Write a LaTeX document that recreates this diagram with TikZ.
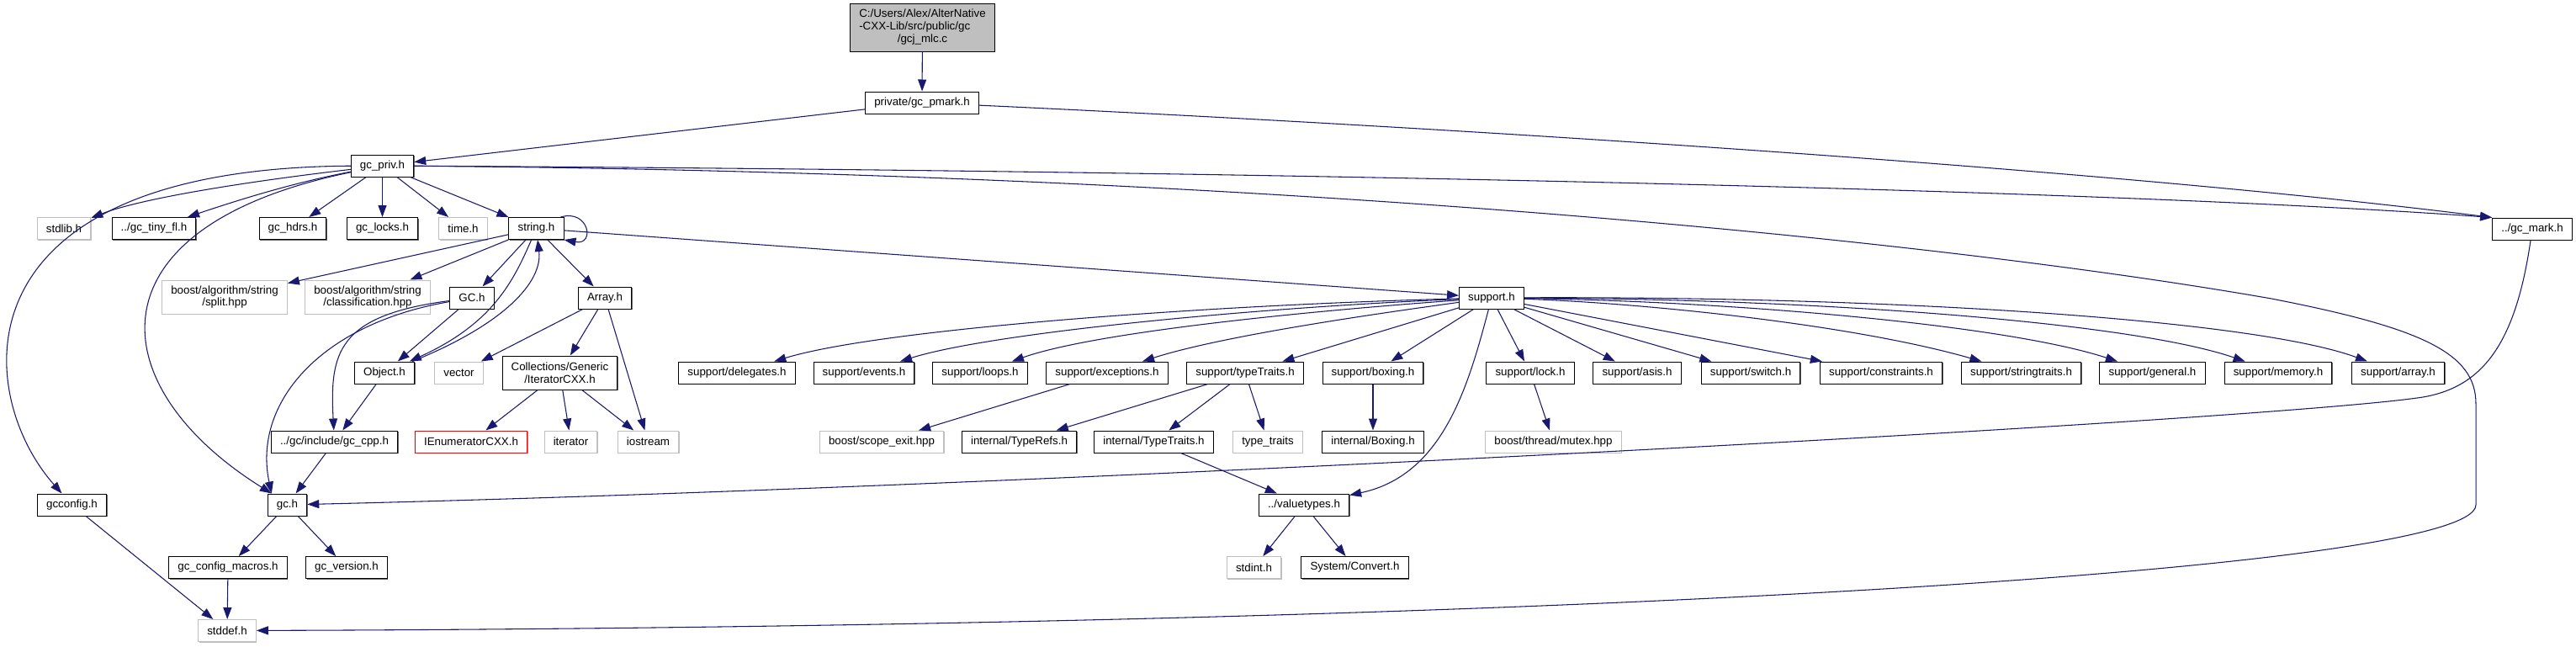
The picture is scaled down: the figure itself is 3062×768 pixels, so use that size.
\documentclass[tikz,border=0pt]{standalone}
\usepackage{fontspec}
\setmainfont{Liberation Sans}
\usetikzlibrary{arrows.meta,positioning,shadows}
\definecolor{edgeblue}{RGB}{25,25,112}
\definecolor{extgray}{RGB}{191,191,191}

\begin{document}
\begin{tikzpicture}[
    x=0.75pt, y=-0.75pt,
    box/.style={fill=white, line width=0.75pt, minimum height=19.5pt,
        inner xsep=8pt, inner ysep=1pt, align=center, font=\fontsize{10}{11}\selectfont},
    file/.style={box, draw=black, general shadow={fill=black!60, shadow xshift=0.75pt, shadow yshift=-0.75pt}},
    ext/.style={box, draw=extgray, general shadow={fill=extgray, shadow xshift=0.75pt, shadow yshift=-0.75pt}},
    nofile/.style={box, draw=red, general shadow={fill=red!60, shadow xshift=0.75pt, shadow yshift=-0.75pt}},
    srcfile/.style={file, fill=extgray},
    dep/.style={-{Triangle[length=10.5pt,width=7.5pt]}, edgeblue, line width=0.8pt}
]
    \fill[white] (0,0) rectangle (3062,768);
    \useasboundingbox (0,0) rectangle (3062,768);

    % the source file and gc_pmark
    \node[srcfile, minimum height=42.75pt] (mlc) at (1096.5,32.5)
        {\begin{tabular}{@{}l@{}}C:/Users/Alex/AlterNative\\-CXX-Lib/src/public/gc\\\multicolumn{1}{@{}c@{}}{/gcj\_mlc.c}\end{tabular}};
    \node[file] (pmark) at (1096,122) {private/gc\_pmark.h};
    \node[file] (priv) at (454.5,197) {gc\_priv.h};
    \node[file] (mark) at (3010,272) {../gc\_mark.h};

    % headers of gc_priv.h
    \node[ext]  (stdlib) at (76,271.5) {stdlib.h};
    \node[file] (tinyfl) at (183,271.5) {../gc\_tiny\_fl.h};
    \node[file] (hdrs) at (348,271.5) {gc\_hdrs.h};
    \node[file] (locks) at (454.5,271.5) {gc\_locks.h};
    \node[ext]  (time) at (550.5,271.5) {time.h};
    \node[file] (string) at (637.5,271.5) {string.h};

    % headers of string.h
    \node[ext, minimum height=30pt] (split) at (267,353) {boost/algorithm/string\\/split.hpp};
    \node[ext, minimum height=30pt] (classif) at (437,353) {boost/algorithm/string\\/classification.hpp};
    \node[file] (GC) at (561,354) {GC.h};
    \node[file] (array) at (719,354) {Array.h};
    \node[file] (support) at (1773,354) {support.h};

    \node[file] (object) at (457,443) {Object.h};
    \node[ext]  (vector) at (545.5,443) {vector};
    \node[file, minimum height=30pt] (iter) at (665.5,443) {Collections/Generic\\/IteratorCXX.h};

    % headers of support.h
    \node[file] (sdelegates) at (876,443) {support/delegates.h};
    \node[file] (sevents) at (1027,443) {support/events.h};
    \node[file] (sloops) at (1165,443) {support/loops.h};
    \node[file] (sexcept) at (1316,443) {support/exceptions.h};
    \node[file] (stypetr) at (1480,443) {support/typeTraits.h};
    \node[file] (sboxing) at (1632,443) {support/boxing.h};
    \node[file] (slock) at (1819,443) {support/lock.h};
    \node[file] (sasis) at (1946,443) {support/asis.h};
    \node[file] (sswitch) at (2081,443) {support/switch.h};
    \node[file] (sconstr) at (2236,443) {support/constraints.h};
    \node[file] (sstrtr) at (2402.5,443) {support/stringtraits.h};
    \node[file] (sgeneral) at (2558.5,443) {support/general.h};
    \node[file] (smemory) at (2708,443) {support/memory.h};
    \node[file] (sarray) at (2850.5,443) {support/array.h};

    \node[file]   (gccpp) at (397.5,525) {../gc/include/gc\_cpp.h};
    \node[nofile] (ienum) at (560,525) {IEnumeratorCXX.h};
    \node[ext]    (iterator) at (678.5,525) {iterator};
    \node[ext]    (iostream) at (770.5,525) {iostream};
    \node[ext]    (scope) at (1048,525) {boost/scope\_exit.hpp};
    \node[file]   (typerefs) at (1211.5,525) {internal/TypeRefs.h};
    \node[file]   (itypetr) at (1371.5,525) {internal/TypeTraits.h};
    \node[ext]    (typetraits) at (1507,525) {type\_traits};
    \node[file]   (iboxing) at (1632,525) {internal/Boxing.h};
    \node[ext]    (mutex) at (1846.5,525) {boost/thread/mutex.hpp};

    \node[file] (gcconfig) at (85.5,600) {gcconfig.h};
    \node[file] (gc) at (341.5,600) {gc.h};
    \node[file] (valtypes) at (1550,600) {../valuetypes.h};

    \node[file] (macros) at (271,674.5) {gc\_config\_macros.h};
    \node[file] (version) at (412,674.5) {gc\_version.h};
    \node[ext]  (stdint) at (1490.5,674.5) {stdint.h};
    \node[file] (convert) at (1610.5,674.5) {System/Convert.h};

    \node[ext] (stddef) at (270,749.5) {stddef.h};

    % turning points of the two long edges on the right
    \coordinate (eastbend) at (2700,355);
    \coordinate (easttop) at (2943,480);
    \coordinate (eastbot) at (2943,600);
    \coordinate (markturn) at (2880,472);

    % top of the graph
    \draw[dep] (mlc) -- (pmark);
    \draw[dep] (pmark) -- (priv);
    \draw[dep] (pmark) .. controls (1700,150) and (2500,200) .. (mark.north west);
    \draw[dep] (priv) .. controls (1500,203) and (2500,225) .. (mark.north west);

    % gc_priv.h
    \draw[dep] (priv) .. controls (-60,200) and (-30,470) .. (gcconfig);
    \draw[dep] (priv) .. controls (300,215) and (170,235) .. (stdlib);
    \draw[dep] (priv) .. controls (360,215) and (300,232) .. (tinyfl);
    \draw[dep] (priv) .. controls (100,270) and (120,460) .. ([xshift=-14pt]gc.north);
    \draw[dep] (priv) -- (hdrs);
    \draw[dep] (priv) -- (locks);
    \draw[dep] (priv) -- (time);
    \draw[dep] (priv) -- (string);
    \draw[dep] (priv) .. controls (1500,205) and (2300,285) .. (eastbend)
        .. controls (2880,390) and (2943,420) .. (easttop) -- (eastbot)
        .. controls (2943,680) and (1800,745) .. (stddef);

    % string.h
    \draw[dep] ([xshift=-3pt]string.north east) .. controls (700,248) and (708,292) .. (string.south east);
    \draw[dep] (string) -- (split);
    \draw[dep] (string) -- (classif);
    \draw[dep] (string) -- (GC);
    \draw[dep] (string) -- (array);
    \draw[dep] (string) -- (support);
    \draw[dep] (string) .. controls (610,335) and (585,385) .. (object);
    \draw[dep] (object) .. controls (600,385) and (645,335) .. (string);

    % GC.h, Object.h, Array.h
    \draw[dep] (GC) -- (object);
    \draw[dep] (GC) .. controls (400,375) and (392,420) .. (gccpp);
    \draw[dep] (GC) .. controls (380,385) and (300,480) .. ([xshift=-14pt]gc.north);
    \draw[dep] (object) -- (gccpp);
    \draw[dep] (gccpp) -- (gc);
    \draw[dep] (array) -- (vector);
    \draw[dep] (array) -- (iter);
    \draw[dep] (array) -- (iostream);
    \draw[dep] (iter) -- (ienum);
    \draw[dep] (iter) -- (iterator);
    \draw[dep] (iter) -- (iostream);

    % gc.h and stddef.h
    \draw[dep] (gc) -- (macros);
    \draw[dep] (gc) -- (version);
    \draw[dep] (gcconfig) -- (stddef);
    \draw[dep] (macros) -- (stddef);
    \draw[dep] (mark) .. controls (2990,410) and (2950,460) .. (markturn)
        .. controls (2700,500) and (1200,580) .. (gc);

    % support.h
    \draw[dep] (support) .. controls (1450,362) and (1050,390) .. (sdelegates);
    \draw[dep] (support) .. controls (1500,365) and (1180,395) .. (sevents);
    \draw[dep] (support) .. controls (1550,370) and (1300,395) .. (sloops);
    \draw[dep] (support) .. controls (1620,375) and (1450,400) .. (sexcept);
    \draw[dep] (support) -- (stypetr);
    \draw[dep] (support) -- (sboxing);
    \draw[dep] (support) .. controls (1745,460) and (1715,565) .. (valtypes);
    \draw[dep] (support) -- (slock);
    \draw[dep] (support) -- (sasis);
    \draw[dep] (support) -- (sswitch);
    \draw[dep] (support) -- (sconstr);
    \draw[dep] (support) .. controls (1950,360) and (2200,385) .. (sstrtr);
    \draw[dep] (support) .. controls (2050,358) and (2380,385) .. (sgeneral);
    \draw[dep] (support) .. controls (2150,355) and (2530,382) .. (smemory);
    \draw[dep] (support) .. controls (2250,352) and (2680,380) .. (sarray);

    % second level below support.h
    \draw[dep] (sexcept) -- (scope);
    \draw[dep] (stypetr) -- (typerefs);
    \draw[dep] (stypetr) -- (itypetr);
    \draw[dep] (stypetr) -- (typetraits);
    \draw[dep] (sboxing) -- (iboxing);
    \draw[dep] (slock) -- (mutex);
    \draw[dep] (itypetr) -- (valtypes);
    \draw[dep] (valtypes) -- (stdint);
    \draw[dep] (valtypes) -- (convert);
\end{tikzpicture}
\end{document}
